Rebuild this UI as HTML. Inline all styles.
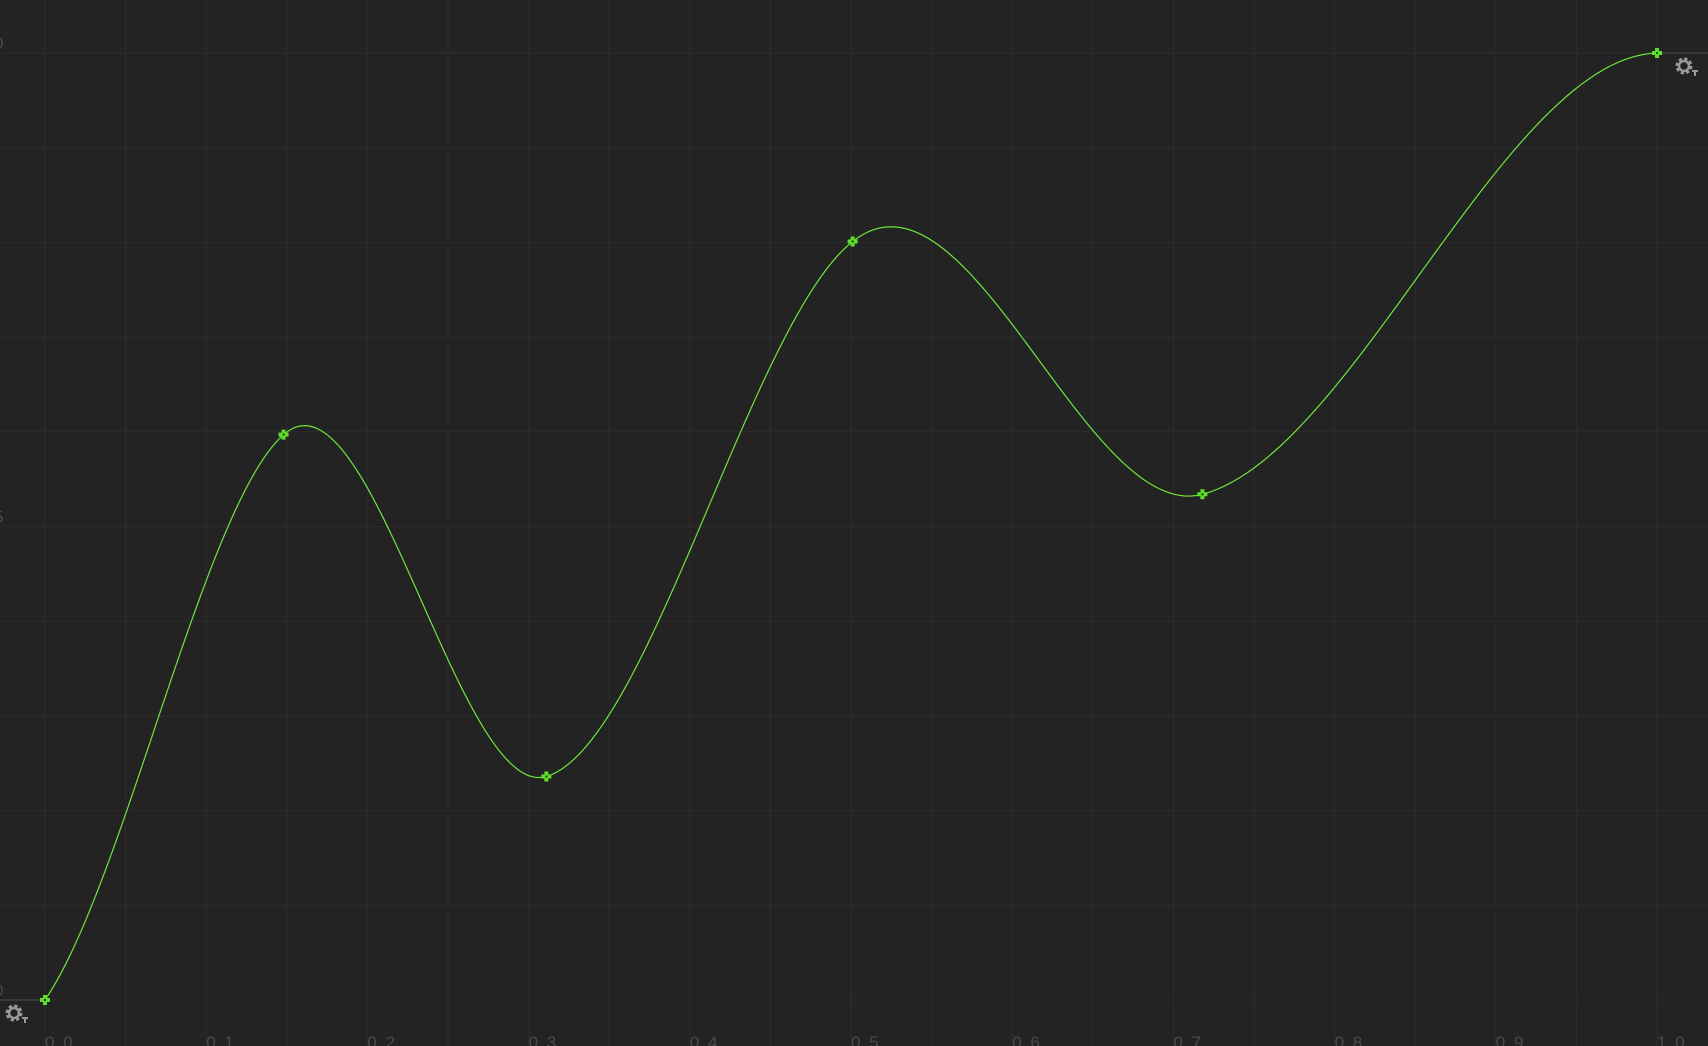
<!DOCTYPE html>
<html><head><meta charset="utf-8"><style>
html,body{margin:0;padding:0;background:#232323;overflow:hidden}
svg{display:block}
text{font-family:"Liberation Sans",sans-serif;fill:#4a4a4a;font-size:17px;letter-spacing:2px}
</style></head><body>
<svg id="chart" width="1708" height="1046" viewBox="0 0 1708 1046"></svg>
<script>
const keyX=[0,0.148,0.311,0.501,0.718,1.0];
const keyY=[0,0.597,0.236,0.801,0.534,1.0];
const keySlope=[2.5,1.5,0.5,1.35,0.45,0.05];
const xTicks=["0.0","0.1","0.2","0.3","0.4","0.5","0.6","0.7","0.8","0.9","1.0"];
const xTickVals=[0,0.1,0.2,0.3,0.4,0.5,0.6,0.7,0.8,0.9,1.0];
const yTickLabels=["0","5","0"];
const yTickVals=[0,0.5,1.0];
const NS="http://www.w3.org/2000/svg";
const svg=document.getElementById('chart');
const X=v=>45+v*1612, Y=v=>1000-v*947;
function mk(t,a,p){const e=document.createElementNS(NS,t);for(const k in a)e.setAttribute(k,a[k]);(p||svg).appendChild(e);return e;}
const grid=mk('g',{});


for(let i=-1;i<=22;i++){const x=X(i*0.05);mk('line',{x1:x,y1:0,x2:x,y2:1046,stroke:'#2c2c2c','stroke-width':1},grid);}
for(let i=-1;i<=11;i++){const y=Y(i*0.1);mk('line',{x1:0,y1:y,x2:1708,y2:y,stroke:'#2c2c2c','stroke-width':1},grid);}
const b1=mk('line',{x1:0,y1:Y(0),x2:X(0),y2:Y(0),stroke:'#444','stroke-width':1.2});


const b2=mk('line',{x1:X(1),y1:Y(1),x2:1708,y2:Y(1),stroke:'#444','stroke-width':1.2});


xTickVals.forEach((v,i)=>{const t=mk('text',{x:X(v),y:1048,'text-anchor':'start'});t.textContent=xTicks[i];

});
yTickVals.forEach((v,i)=>{const t=mk('text',{x:-6,y:Y(v)-4});t.textContent=yTickLabels[i];

});
let d='';
for(let s=0;s<keyX.length-1;s++){const x0=keyX[s],x1=keyX[s+1],y0=keyY[s],y1=keyY[s+1],h=x1-x0,m0=keySlope[s]*h,m1=keySlope[s+1]*h;
for(let k=0;k<=60;k++){const t=k/60,t2=t*t,t3=t2*t;
const y=(2*t3-3*t2+1)*y0+(t3-2*t2+t)*m0+(-2*t3+3*t2)*y1+(t3-t2)*m1;
d+=(d?'L':'M')+X(x0+t*h).toFixed(2)+','+Y(y).toFixed(2);}}
const path=mk('path',{d:d,fill:'none',stroke:'#6fe63a','stroke-width':1.2});


keyX.forEach((v,i)=>{const g=mk('g',{transform:`translate(${X(v)},${Y(keyY[i])})`});


mk('path',{d:'M-2,-5H2V-2H5V2H2V5H-2V2H-5V-2H-2Z',fill:'#5ee02a'},g);
mk('rect',{x:-1,y:-1,width:2,height:2,fill:'#1d3a10'},g);});
function gear(x,y,name){const g=mk('g',{transform:`translate(${x},${y})`});


mk('circle',{cx:0,cy:0,r:6.5,fill:'none',stroke:'#999','stroke-width':4,'stroke-dasharray':'3 2.1'},g);
mk('circle',{cx:0,cy:0,r:5,fill:'none',stroke:'#999','stroke-width':2.5},g);
mk('path',{d:'M8,4h6v2h-2v4h-2v-4h-2z',fill:'#999'},g);}
gear(14,1013,'pre-wrap-settings');
gear(1684,66,'post-wrap-settings');
</script>
</body></html>
